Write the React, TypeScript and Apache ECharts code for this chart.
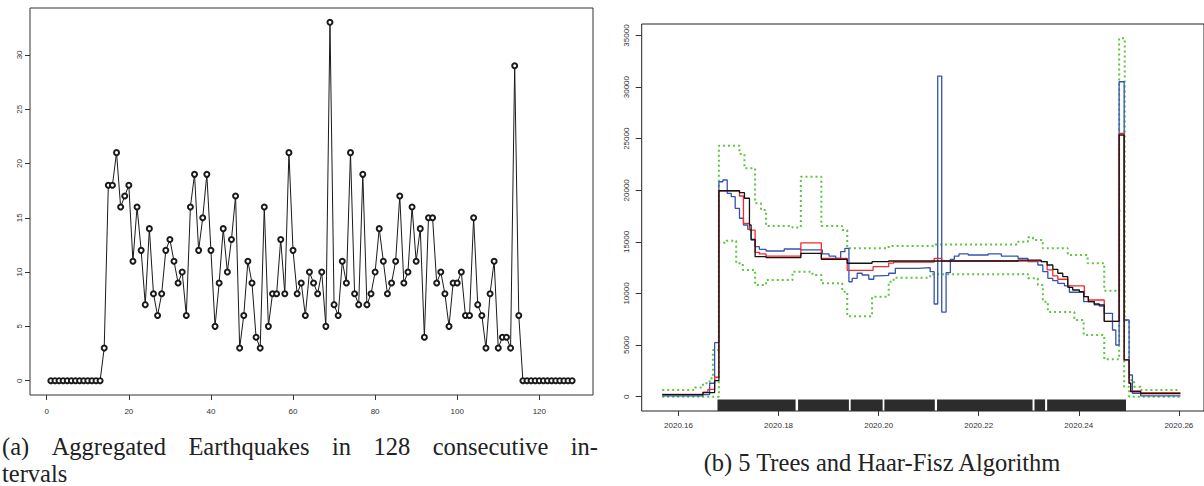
import React, { useEffect, useRef } from "react";
import * as echarts from "echarts";

// ---------- Panel (a): aggregated earthquake counts, 128 intervals ----------
const quakeCounts = [
  0, 0, 0, 0, 0, 0, 0, 0, 0, 0, 0, 0, 0, 3, 18, 18, 21, 16, 17, 18,
  11, 16, 12, 7, 14, 8, 6, 8, 12, 13, 11, 9, 10, 6, 16, 19, 12, 15, 19, 12,
  5, 9, 14, 10, 13, 17, 3, 6, 11, 9, 4, 3, 16, 5, 8, 8, 13, 8, 21, 12,
  8, 9, 6, 10, 9, 8, 10, 5, 33, 7, 6, 11, 9, 21, 8, 7, 19, 7, 8, 10,
  14, 11, 8, 9, 11, 17, 9, 10, 16, 11, 14, 4, 15, 15, 9, 10, 8, 5, 9, 9,
  10, 6, 6, 15, 7, 6, 3, 8, 11, 3, 4, 4, 3, 29, 6, 0, 0, 0, 0, 0,
  0, 0, 0, 0, 0, 0, 0, 0,
];
const leftXTicks = [0, 20, 40, 60, 80, 100, 120];
const leftYTicks = [0, 5, 10, 15, 20, 25, 30];

// ---------- Panel (b): step estimates (time, intensity) ----------
const blackSteps = [
  [2020.15674, 200], [2020.16489, 400], [2020.16722, 1550], [2020.16807, 19960],
  [2020.17219, 19770], [2020.17318, 19230], [2020.17418, 16640], [2020.17451, 15250],
  [2020.17531, 13570], [2020.1775, 13470], [2020.18445, 13890], [2020.18855, 13310],
  [2020.19372, 12930], [2020.19869, 13080], [2020.20201, 13150], [2020.22785, 13240],
  [2020.23249, 13080], [2020.23368, 12760], [2020.23481, 12340], [2020.23581, 11960],
  [2020.2368, 11630], [2020.2378, 10600], [2020.23879, 10340], [2020.24012, 10180],
  [2020.24098, 9690], [2020.24191, 9210], [2020.2431, 8980], [2020.2441, 8890],
  [2020.24509, 7300], [2020.24807, 25360], [2020.24907, 3560], [2020.25006, 1300],
  [2020.25038, 485], [2020.25237, 300], [2020.26032, 260],
];
const redSteps = [
  [2020.15674, 230], [2020.16489, 450], [2020.16588, 700], [2020.16722, 1880],
  [2020.16807, 19950], [2020.17219, 19450], [2020.17298, 16800], [2020.17418, 16150],
  [2020.17531, 13990], [2020.17616, 13830], [2020.1775, 13630], [2020.18445, 14900],
  [2020.18855, 13410], [2020.19372, 12250], [2020.19889, 12600], [2020.20201, 12950],
  [2020.203, 13050], [2020.2111, 13400], [2020.21261, 13150], [2020.23249, 13080],
  [2020.23368, 12280], [2020.23481, 11700], [2020.23581, 11380], [2020.2378, 10730],
  [2020.24111, 9690], [2020.24191, 9370], [2020.24509, 7300], [2020.24807, 25520],
  [2020.24907, 3560], [2020.25006, 1300], [2020.25038, 550], [2020.25237, 400],
  [2020.26032, 390],
];
const blueSteps = [
  [2020.15674, 70], [2020.16489, 200], [2020.16622, 1300], [2020.16722, 5230],
  [2020.16807, 20830], [2020.16887, 21000], [2020.16974, 19710], [2020.17054, 19380],
  [2020.17133, 18250], [2020.17219, 17290], [2020.17298, 16640], [2020.17384, 16220],
  [2020.17451, 15180], [2020.17531, 14540], [2020.17616, 14280], [2020.1775, 14120],
  [2020.18113, 14310], [2020.18445, 14220], [2020.18875, 13830], [2020.19008, 13630],
  [2020.19141, 13410], [2020.19241, 14050], [2020.19326, 14380], [2020.19406, 11140],
  [2020.19471, 11470], [2020.19571, 11960], [2020.1967, 11790], [2020.19803, 11380],
  [2020.19903, 11700], [2020.20002, 11750], [2020.20201, 11960], [2020.20334, 12440],
  [2020.20797, 12500], [2020.2103, 12110], [2020.2111, 8980], [2020.21181, 31070],
  [2020.21261, 8200], [2020.21348, 12020], [2020.21434, 13310], [2020.21513, 13630],
  [2020.21606, 13830], [2020.21791, 13730], [2020.22189, 13830], [2020.22453, 13630],
  [2020.22785, 13410], [2020.22984, 13080], [2020.23182, 12760], [2020.23282, 12110],
  [2020.23382, 11470], [2020.23481, 11240], [2020.23581, 10980], [2020.23714, 10730],
  [2020.23813, 10120], [2020.24098, 9210], [2020.2431, 8890], [2020.2441, 8790],
  [2020.24509, 8080], [2020.24674, 6460], [2020.2474, 5010], [2020.24807, 30520],
  [2020.24907, 7430], [2020.25006, 2100], [2020.25072, 330], [2020.25237, 70],
  [2020.26032, 70],
];
const upperBand = [
  [2020.15674, 650], [2020.16324, 900], [2020.16489, 1300], [2020.16622, 1780],
  [2020.16688, 4530], [2020.16807, 24320], [2020.17219, 23520], [2020.17318, 22130],
  [2020.17531, 18740], [2020.1765, 18090], [2020.1775, 16540], [2020.18278, 16400],
  [2020.18445, 21320], [2020.18855, 16540], [2020.19272, 16150], [2020.19372, 14380],
  [2020.20201, 14600], [2020.21129, 14750], [2020.22785, 15020], [2020.22984, 15450],
  [2020.23084, 15190], [2020.23282, 14380], [2020.2378, 13730], [2020.24177, 12930],
  [2020.24509, 10270], [2020.24807, 34730], [2020.24919, 7430], [2020.25006, 1620],
  [2020.25106, 970], [2020.25237, 650], [2020.26032, 650],
];
const lowerBand = [
  [2020.15674, 0], [2020.16807, 14920], [2020.16954, 15120], [2020.17153, 12930],
  [2020.17284, 12280], [2020.17531, 10820], [2020.1775, 11310], [2020.18278, 12110],
  [2020.18676, 11790], [2020.18855, 10990], [2020.19272, 10180], [2020.19372, 7800],
  [2020.19869, 9690], [2020.20201, 11140], [2020.203, 11530], [2020.2103, 11860],
  [2020.22785, 11890], [2020.22984, 11470], [2020.23182, 10820], [2020.23282, 9210],
  [2020.23382, 8200], [2020.23913, 7430], [2020.24098, 5980], [2020.24509, 3620],
  [2020.24807, 18000], [2020.24907, 970], [2020.25006, 0], [2020.26032, 0],
];
// rug of event times, as dense blocks [from, to]
const rugBlocks = [
  [2020.16779, 2020.1834], [2020.1839, 2020.19406], [2020.19441, 2020.2008],
  [2020.20115, 2020.21123], [2020.21167, 2020.23076], [2020.23115, 2020.23327],
  [2020.23368, 2020.24944],
];
const rightXTicks = [2020.16, 2020.18, 2020.2, 2020.22, 2020.24, 2020.26];
const rightYTicks = [0, 5000, 10000, 15000, 20000, 25000, 30000, 35000];

const captionAWords = ["(a)", "Aggregated", "Earthquakes", "in", "128", "consecutive", "in-"];
const captionALine2 = "tervals";
const captionB = "(b) 5 Trees and Haar-Fisz Algorithm";

const RIGHT_Y_MIN = -1389;
const RIGHT_Y_MAX = 36119;

const axisFont = { fontFamily: "Liberation Sans", fontSize: 8, color: "#333" };
const tickStyle = { color: "#333", width: 1 };
const CAPTION_FONT = "Liberation Serif";
const CAPTION_SIZE = 24.5;
const CAPTION_LH = 24;

function justifiedWords(words: string[], x0: number, x1: number, y: number) {
  const ctx = document.createElement("canvas").getContext("2d");
  let widths = words.map((w) => w.length * CAPTION_SIZE * 0.45);
  if (ctx) {
    ctx.font = `${CAPTION_SIZE}px "${CAPTION_FONT}"`;
    widths = words.map((w) => ctx.measureText(w).width);
  }
  const total = widths.reduce((a, b) => a + b, 0);
  const gap = (x1 - x0 - total) / (words.length - 1);
  let x = x0;
  return words.map((w, i) => {
    const el = {
      type: "text",
      x,
      y,
      style: { text: w, fontFamily: CAPTION_FONT, fontSize: CAPTION_SIZE, lineHeight: CAPTION_LH, fill: "#222", align: "left", verticalAlign: "middle" },
    };
    x += widths[i] + gap;
    return el;
  });
}

function buildOption() {
  const stepSeries = (data: number[][], color: string, width: number, z: number, dotted = false) => ({
    type: "line",
    xAxisIndex: 1,
    yAxisIndex: 1,
    step: "end",
    data,
    symbol: "none",
    silent: true,
    z,
    lineStyle: { color, width, type: dotted ? [2, 3] : "solid", cap: "butt" },
  });

  return {
    animation: false,
    backgroundColor: "#fff",
    grid: [
      { left: 30, top: 8, width: 563, height: 387, show: true, borderColor: "#333", borderWidth: 1, backgroundColor: "transparent" },
      { left: 641.7, top: 24, width: 565.3, height: 387, show: true, borderColor: "#222", borderWidth: 1, backgroundColor: "transparent" },
    ],
    xAxis: [
      {
        gridIndex: 0, type: "value", min: -4.08, max: 133.08,
        axisLine: { show: false, onZero: false },
        axisTick: { show: true, customValues: leftXTicks, length: 5, inside: false, lineStyle: tickStyle },
        axisLabel: { customValues: leftXTicks, margin: 12, ...axisFont },
        splitLine: { show: false },
      },
      {
        gridIndex: 1, type: "value", min: 2020.152644, max: 2020.26503,
        axisLine: { show: false, onZero: false },
        axisTick: { show: true, customValues: rightXTicks, length: 5, inside: false, lineStyle: tickStyle },
        axisLabel: { customValues: rightXTicks, margin: 10, formatter: (v: number) => v.toFixed(2), ...axisFont },
        splitLine: { show: false },
      },
    ],
    yAxis: [
      {
        gridIndex: 0, type: "value", min: -1.32, max: 34.32,
        axisLine: { show: false, onZero: false },
        axisTick: { show: true, customValues: leftYTicks, length: 5, inside: false, lineStyle: tickStyle },
        axisLabel: { customValues: leftYTicks, rotate: 90, margin: 7, formatter: (v: number) => String(v), ...axisFont },
        splitLine: { show: false },
      },
      {
        gridIndex: 1, type: "value", min: RIGHT_Y_MIN, max: RIGHT_Y_MAX,
        axisLine: { show: false, onZero: false },
        axisTick: { show: true, customValues: rightYTicks, length: 6, inside: false, lineStyle: tickStyle },
        axisLabel: { customValues: rightYTicks, rotate: 90, margin: 11, formatter: (v: number) => String(v), ...axisFont },
        splitLine: { show: false },
      },
    ],
    series: [
      {
        type: "line",
        xAxisIndex: 0,
        yAxisIndex: 0,
        data: quakeCounts.map((v, i) => [i + 1, v]),
        symbol: "emptyCircle",
        symbolSize: 5,
        silent: true,
        lineStyle: { color: "#1a1a1a", width: 1 },
        itemStyle: { color: "#1a1a1a", borderWidth: 1 },
      },
      {
        type: "custom",
        xAxisIndex: 1,
        yAxisIndex: 1,
        silent: true,
        data: rugBlocks,
        encode: { x: [0, 1] },
        z: 1,
        renderItem: (_p: any, api: any) => {
          const a = api.coord([api.value(0), RIGHT_Y_MIN]);
          const b = api.coord([api.value(1), RIGHT_Y_MIN]);
          return {
            type: "rect",
            shape: { x: a[0], y: a[1] - 11.6, width: b[0] - a[0], height: 11.6 },
            style: { fill: "#2c2c2c" },
          };
        },
      },
      stepSeries(upperBand, "#5cc63e", 2, 2, true),
      stepSeries(lowerBand, "#5cc63e", 2, 2, true),
      stepSeries(blueSteps, "#3452b4", 1.3, 3),
      stepSeries(redSteps, "#f42a2a", 1.3, 4),
      stepSeries(blackSteps, "#141414", 1.3, 5),
    ],
    graphic: [
      ...justifiedWords(captionAWords, 2, 598, 446),
      {
        type: "text", x: 2, y: 473,
        style: { text: captionALine2, fontFamily: CAPTION_FONT, fontSize: CAPTION_SIZE, lineHeight: CAPTION_LH, fill: "#222", align: "left", verticalAlign: "middle" },
      },
      {
        type: "text", x: 882, y: 462,
        style: { text: captionB, fontFamily: CAPTION_FONT, fontSize: CAPTION_SIZE, lineHeight: CAPTION_LH, fill: "#222", align: "center", verticalAlign: "middle" },
      },
    ],
  };
}

export default function App() {
  const ref = useRef<HTMLDivElement>(null);
  useEffect(() => {
    if (!ref.current) return;
    const chart = echarts.init(ref.current, null, { renderer: "svg" });
    chart.setOption(buildOption() as any);
    return () => chart.dispose();
  }, []);
  return (
    <div
      ref={ref}
      style={{ position: "fixed", left: 0, top: 0, width: 1204, height: 486, background: "#fff", overflow: "hidden" }}
    />
  );
}
